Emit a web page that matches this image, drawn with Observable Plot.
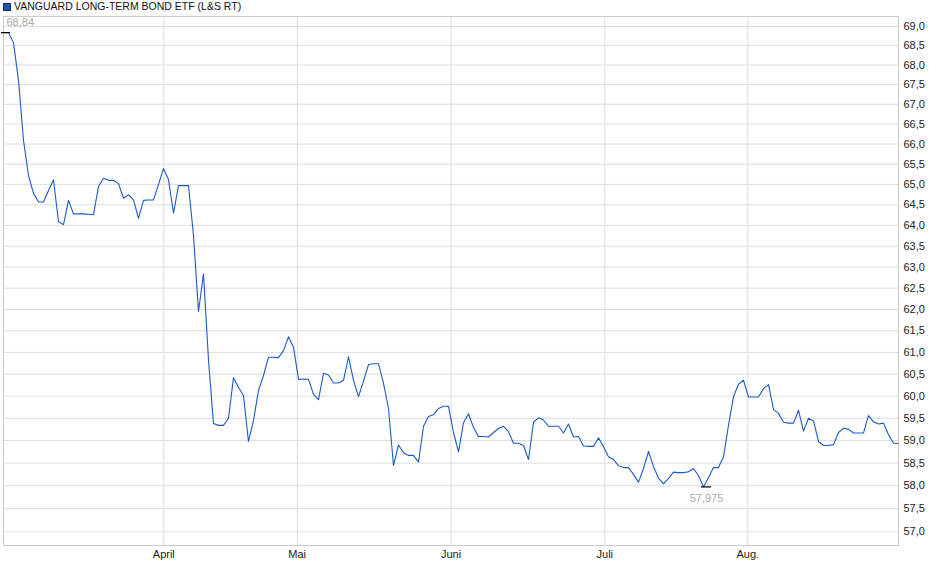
<!DOCTYPE html>
<html><head><meta charset="utf-8">
<script src="https://cdn.jsdelivr.net/npm/d3@7"></script>
<script src="https://cdn.jsdelivr.net/npm/@observablehq/plot@0.6"></script>
<style>
body{margin:0;background:#fff;font-family:"Liberation Sans",Arial,sans-serif;}
#wrap{position:relative;width:940px;height:579px;overflow:hidden;}
#sq{position:absolute;left:3px;top:3px;width:6px;height:6px;background:#1f52b0;border:1px solid #0c2c6e;}
#title{position:absolute;left:14px;top:0px;font-size:10.5px;line-height:13px;color:#111;white-space:nowrap;}
#chart{position:absolute;left:0;top:0;}
</style></head><body>
<div id="wrap"><div id="chart"></div><div id="sq"></div><div id="title">VANGUARD LONG-TERM BOND ETF (L&amp;S RT)</div></div>
<script>
const prices = [
68.84,68.84,68.58,67.61,66.09,65.22,64.78,64.57,64.57,64.85,
65.11,64.09,64.02,64.61,64.28,64.28,64.28,64.27,64.26,64.95,
65.15,65.10,65.10,65.02,64.66,64.75,64.62,64.17,64.61,64.62,
64.62,65.00,65.39,65.12,64.30,64.97,64.97,64.97,63.76,61.95,
62.84,60.82,59.38,59.34,59.34,59.50,60.42,60.20,60.01,58.98,
59.45,60.13,60.47,60.89,60.89,60.88,61.04,61.36,61.12,60.38,
60.39,60.38,60.04,59.92,60.52,60.48,60.30,60.30,60.36,60.90,
60.36,59.99,60.34,60.72,60.74,60.74,60.29,59.72,58.45,58.90,
58.73,58.67,58.67,58.52,59.32,59.54,59.58,59.72,59.77,59.77,
59.18,58.75,59.40,59.60,59.29,59.09,59.09,59.08,59.18,59.27,
59.32,59.20,58.94,58.94,58.89,58.58,59.41,59.51,59.46,59.32,
59.32,59.32,59.17,59.37,59.08,59.09,58.88,58.87,58.87,59.06,
58.86,58.64,58.58,58.44,58.40,58.40,58.25,58.08,58.38,58.76,
58.42,58.17,58.04,58.16,58.30,58.29,58.29,58.31,58.38,58.22,
57.975,58.18,58.40,58.40,58.64,59.34,59.99,60.27,60.36,59.98,
59.98,59.98,60.17,60.26,59.70,59.61,59.41,59.39,59.39,59.68,
59.21,59.50,59.44,58.98,58.89,58.89,58.91,59.18,59.28,59.25,
59.17,59.17,59.17,59.56,59.42,59.37,59.39,59.13,58.94,58.94
];
const monthLabels = ["April","Mai","Juni","Juli","Aug."];
const monthTickIndex = [32.06, 58.74, 89.5, 120.26, 148.86];
const yTicks = d3.range(57, 69.001, 0.5);
const yDomain = [56.705, 69.261];

const data = prices.map((v, i) => ({i, v}));
const iMax = d3.maxIndex(prices), iMin = d3.minIndex(prices);
const fmtTick = v => d3.format(".1f")(v).replace(".", ",");
const fmtAnn = v => String(v).replace(".", ",");
const font = '"Liberation Sans", Arial, sans-serif';

const chart = Plot.plot({
  width: 940, height: 579,
  marginTop: 16, marginBottom: 34, marginLeft: 3, marginRight: 42,
  style: {fontFamily: font, fontSize: "11px", color: "#222", background: "transparent", overflow: "visible"},
  x: {domain: [0, prices.length - 1], axis: null, label: null},
  y: {type: "log", domain: yDomain, axis: null, label: null},
  marks: [
    Plot.ruleY(yTicks, {stroke: "#dddddd", strokeWidth: 1}),
    Plot.ruleX(monthTickIndex, {stroke: "#dddddd", strokeWidth: 1}),
    Plot.frame({stroke: "#cccccc"}),
    Plot.axisY(yTicks, {anchor: "right", tickSize: 0, tickPadding: 5, tickFormat: fmtTick, fill: "#222", label: null}),
    Plot.axisX(monthTickIndex, {anchor: "bottom", tickSize: 0, tickPadding: 5,
      tickFormat: d => monthLabels[monthTickIndex.indexOf(d)], fill: "#222", label: null}),
    Plot.line(data, {x: "i", y: "v", stroke: "#1c5bc3", strokeWidth: 1.1}),
    Plot.ruleY([data[iMax]], {y: "v", x1: d => d.i - 0.4, x2: d => d.i + 1.4, stroke: "#000", strokeWidth: 1.2}),
    Plot.text([data[iMax]], {x: "i", y: "v", text: d => fmtAnn(d.v), textAnchor: "start", dx: 3, dy: -10, fill: "#aaaaaa", fontSize: 11}),
    Plot.ruleY([data[iMin]], {y: "v", x1: d => d.i - 0.4, x2: d => d.i + 1.6, stroke: "#000", strokeWidth: 1.2}),
    Plot.text([data[iMin]], {x: "i", y: "v", text: d => fmtAnn(d.v), textAnchor: "middle", dx: 3, dy: 12, fill: "#aaaaaa", fontSize: 11})
  ]
});
document.getElementById("chart").appendChild(chart);
</script>
</body></html>
